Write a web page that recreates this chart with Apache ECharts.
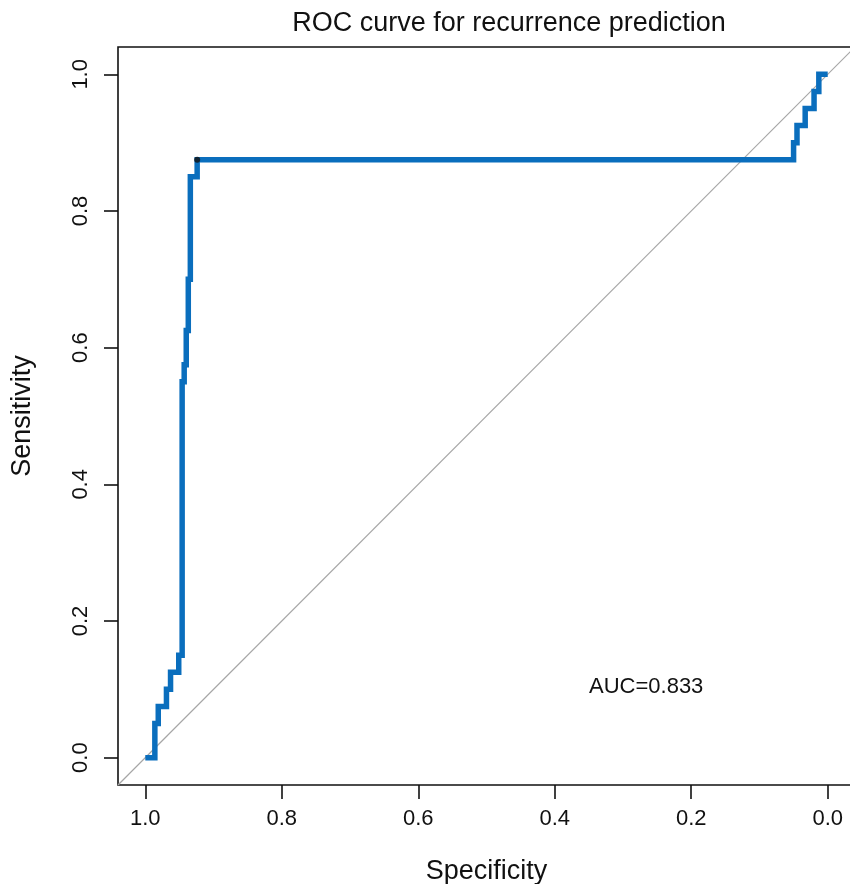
<!DOCTYPE html>
<html>
<head>
<meta charset="utf-8">
<script src="https://cdn.jsdelivr.net/npm/echarts@6/dist/echarts.min.js"></script>
<style>
html,body{margin:0;padding:0;background:#fff;}
#chart{width:850px;height:884px;}
</style>
</head>
<body>
<div id="chart"></div>
<script>
// ROC step path (vertices)
var specificity = [1.0, 0.986, 0.986, 0.981, 0.981, 0.969, 0.969, 0.963, 0.963, 0.951, 0.951, 0.946, 0.946, 0.943, 0.943, 0.940, 0.940, 0.937, 0.937, 0.934, 0.934, 0.924, 0.924, 0.05, 0.05, 0.045, 0.045, 0.033, 0.033, 0.02, 0.02, 0.013, 0.013, 0.0];
var sensitivity = [0.0, 0.0, 0.05, 0.05, 0.075, 0.075, 0.1, 0.1, 0.125, 0.125, 0.15, 0.15, 0.55, 0.55, 0.575, 0.575, 0.625, 0.625, 0.7, 0.7, 0.85, 0.85, 0.875, 0.875, 0.9, 0.9, 0.925, 0.925, 0.95, 0.95, 0.975, 0.975, 1.0, 1.0];
var bestPoint = [0.924, 0.875];
var tickValues = [0, 0.2, 0.4, 0.6, 0.8, 1.0];
var axisMin = -0.04, axisMax = 1.04;
var diagonal = [[axisMax, axisMin], [axisMin, axisMax]];
var titleText = 'ROC curve for recurrence prediction';
var xName = 'Specificity', yName = 'Sensitivity';
var aucText = 'AUC=0.833';

var FONT = '"Liberation Sans", Arial, sans-serif';
var curve = specificity.map(function (s, i) { return [s, sensitivity[i]]; });

var chart = echarts.init(document.getElementById('chart'), null, {renderer: 'canvas'});
chart.setOption({
  backgroundColor: '#fff',
  animation: false,
  title: {
    text: titleText,
    left: 504, top: 5, textAlign: 'center',
    textStyle: {fontFamily: FONT, fontSize: 27, fontWeight: 'normal', color: '#111'}
  },
  grid: {
    left: 118, top: 47, width: 737, height: 738,
    outerBoundsMode: 'none', containLabel: false,
    show: true, borderColor: '#111', borderWidth: 1.6, backgroundColor: 'transparent'
  },
  xAxis: {
    type: 'value', inverse: true, min: axisMin, max: axisMax,
    name: xName, nameLocation: 'middle', nameGap: 73,
    nameTextStyle: {fontFamily: FONT, fontSize: 27, color: '#111'},
    axisLine: {show: false, onZero: false},
    splitLine: {show: false},
    axisTick: {show: true, inside: false, length: 14, customValues: tickValues, lineStyle: {color: '#111', width: 1.6}},
    axisLabel: {customValues: tickValues, margin: 23, fontFamily: FONT, fontSize: 22, color: '#111',
      formatter: function (v) { return v.toFixed(1); }}
  },
  yAxis: {
    type: 'value', min: axisMin, max: axisMax,
    name: yName, nameLocation: 'middle', nameGap: 82,
    nameTextStyle: {fontFamily: FONT, fontSize: 27, color: '#111'},
    axisLine: {show: false, onZero: false},
    splitLine: {show: false},
    axisTick: {show: true, inside: false, length: 14, customValues: tickValues, lineStyle: {color: '#111', width: 1.6}},
    axisLabel: {customValues: tickValues, margin: 26, rotate: 90, fontFamily: FONT, fontSize: 22, color: '#111',
      formatter: function (v) { return v.toFixed(1); }}
  },
  series: [
    {
      type: 'line', data: diagonal, symbol: 'none', silent: true,
      lineStyle: {color: '#a6a6a6', width: 1.2}, z: 1
    },
    {
      type: 'line', data: curve, symbol: 'none',
      lineStyle: {color: '#0a6ebd', width: 5.5, join: 'miter', cap: 'butt'}, z: 3
    },
    {
      type: 'scatter', data: [bestPoint], symbol: 'circle', symbolSize: 6,
      itemStyle: {color: '#111'}, z: 4
    }
  ],
  graphic: [{
    type: 'text', left: 647 - 58, top: 689 - 13,
    style: {text: aucText, font: '22px ' + FONT, fill: '#111'}
  }]
});
</script>
</body>
</html>
